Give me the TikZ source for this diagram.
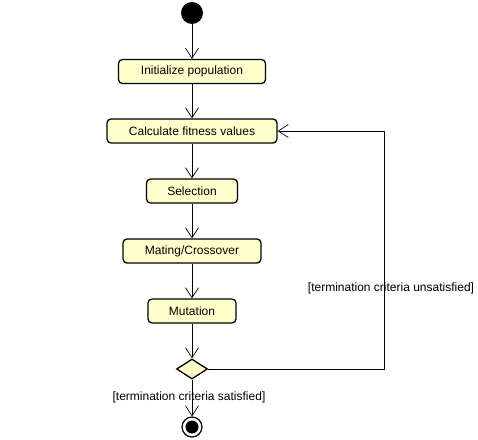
\documentclass[tikz,border=0pt]{standalone}
\usepackage{fontspec}
\setmainfont{Liberation Sans}
\usetikzlibrary{arrows.meta,shapes.geometric}
\definecolor{actfill}{RGB}{255,255,204}
\tikzset{
  act/.style={draw,line width=1.3pt,rounded corners=4pt,fill=actfill,minimum height=24pt,inner sep=0pt,font=\fontsize{12}{14}\selectfont},
  flow/.style={-{Straight Barb[length=10pt,width=13pt]},line width=0.7pt},
  guard/.style={font=\fontsize{12}{14}\selectfont,inner sep=0pt}
}
\begin{document}
\begin{tikzpicture}[x=1pt,y=-1pt]
\useasboundingbox (0,0) rectangle (478,439);
\node[circle,fill=black,minimum size=22pt,inner sep=0pt] (start) at (192,13) {};
\node[act,minimum width=147pt] (init) at (192,71.5) {Initialize population};
\node[act,minimum width=170pt] (fitness) at (192,131) {Calculate fitness values};
\node[act,minimum width=91pt] (select) at (192,191) {Selection};
\node[act,minimum width=138pt] (mating) at (192,251) {Mating/Crossover};
\node[act,minimum width=88pt] (mutate) at (192,311) {Mutation};
\node[diamond,draw,line width=1.3pt,fill=actfill,minimum width=31pt,minimum height=20pt,inner sep=0pt] (check) at (192,369) {};
\node[circle,draw,line width=1.2pt,fill=white,minimum size=20pt,inner sep=0pt] (stop) at (192,427) {};
\fill (stop.center) circle (6.5pt);
\coordinate (loop) at (384,131);
% flow
\draw[flow] (start) -- (init);
\draw[flow] (init) -- (fitness);
\draw[flow] (fitness) -- (select);
\draw[flow] (select) -- (mating);
\draw[flow] (mating) -- (mutate);
\draw[flow] (mutate) -- (check);
\draw[flow] (check) -- (stop);
\draw[flow] (check.east) -| (loop) -- (fitness.east);
% guards
\node[guard] (unsat) at (391,288) {[termination criteria unsatisfied]};
\node[guard] (sat) at (189,397) {[termination criteria satisfied]};
\end{tikzpicture}
\end{document}
